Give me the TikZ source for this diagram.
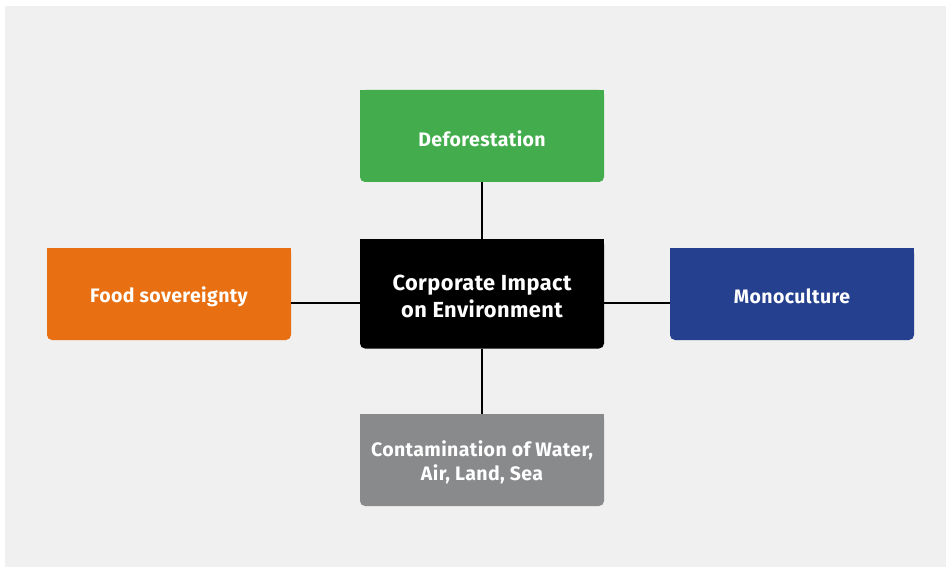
\documentclass[tikz,border=0pt]{standalone}
\usepackage{fontspec}
\setmainfont{Fira Sans}[LetterSpace=2.0]
\usetikzlibrary{backgrounds}
\definecolor{bgc}{HTML}{F0F0F0}
\definecolor{cgreen}{HTML}{43AD4D}
\definecolor{corange}{HTML}{E87012}
\definecolor{cblue}{HTML}{24408E}
\definecolor{cgray}{HTML}{898A8C}
\definecolor{cblack}{HTML}{000000}
\tikzset{
  box/.style={rectangle, rounded corners=5pt, minimum width=244pt, minimum height=92pt,
    inner sep=0pt},
  txt/.style={inner sep=0pt, align=center, text=white, yshift=-2.5pt,
    font=\fontsize{19.5}{23.5}\selectfont\bfseries},
  bigtxt/.style={txt, font=\fontsize{21.8}{27}\selectfont\bfseries},
  link/.style={draw=black, line width=1.8pt}
}
\newcommand\topfill[2]{\begin{scope}[on background layer]\fill[#2] (#1.north west) rectangle (#1.east);\end{scope}}
\begin{document}
\begin{tikzpicture}[x=1pt,y=-1pt]
\useasboundingbox (0,0) rectangle (946,567);
\begin{scope}[on background layer]
\fill[white] (0,0) rectangle (946,567);
\fill[bgc] (5,6) rectangle (946,567);
\end{scope}
\coordinate (hline) at (482,303);
\node[box, fill=cgreen, label={[txt]center:Deforestation}] (def) at (482,136) {};
\node[box, fill=cblack, minimum height=109pt, label={[bigtxt]center:Corporate Impact\\on Environment}] (cor) at (482,294) {};
\node[box, fill=corange, label={[txt]center:Food sovereignty}] (food) at (169,294) {};
\node[box, fill=cblue, label={[txt]center:Monoculture}] (mono) at (792,294) {};
\node[box, fill=cgray, label={[txt]center:Contamination of Water,\\Air, Land, Sea}] (cont) at (482,460) {};
\topfill{def}{cgreen}
\topfill{cor}{cblack}
\topfill{food}{corange}
\topfill{mono}{cblue}
\topfill{cont}{cgray}
\draw[link] (cor) -- (def);
\draw[link] (cor) -- (cont);
\draw[link] (cor.west |- hline) -- (food.east |- hline);
\draw[link] (cor.east |- hline) -- (mono.west |- hline);
\end{tikzpicture}
\end{document}
